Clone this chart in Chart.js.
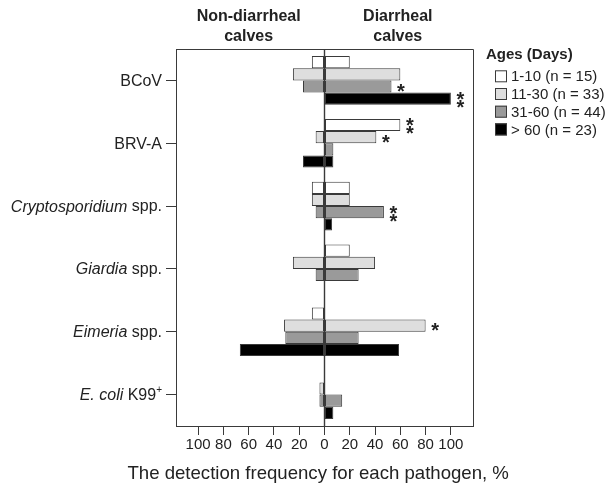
<!DOCTYPE html>
<html><head><meta charset="utf-8">
<script src="https://cdn.jsdelivr.net/npm/chart.js@4/dist/chart.umd.min.js"></script>
<style>html,body{margin:0;padding:0;background:#fff}</style>
</head><body>
<canvas id="c" width="614" height="488"></canvas>
<script>
// ---- data ----
const pathogens = ['BCoV', 'BRV-A', 'Cryptosporidium spp.', 'Giardia spp.', 'Eimeria spp.', 'E. coli K99+'];
const italicParts = ['', '', 'Cryptosporidium', 'Giardia', 'Eimeria', 'E. coli'];
const ageGroups = ['1-10 (n = 15)', '11-30 (n = 33)', '31-60 (n = 44)', '> 60 (n = 23)'];
// non-diarrheal calves (%), drawn to the left
const nonDiarrheal_1_10  = [10, 0, 10, 0, 10, 0];
const nonDiarrheal_11_30 = [25, 7, 10, 25, 32, 4];
const nonDiarrheal_31_60 = [17, 0, 7, 7, 31, 4];
const nonDiarrheal_gt60  = [0, 17, 0, 0, 67, 0];
// diarrheal calves (%), drawn to the right
const diarrheal_1_10  = [20, 60, 20, 20, 0, 0];
const diarrheal_11_30 = [60, 41, 20, 40, 80, 0];
const diarrheal_31_60 = [53, 7, 47, 27, 27, 14];
const diarrheal_gt60  = [100, 7, 6, 0, 59, 7];
// number of significance asterisks next to diarrheal bars
const signif_1_10  = [0, 2, 0, 0, 0, 0];
const signif_11_30 = [0, 1, 0, 0, 1, 0];
const signif_31_60 = [1, 0, 2, 0, 0, 0];
const signif_gt60  = [2, 0, 0, 0, 0, 0];
const xTickValues = [-100, -80, -60, -40, -20, 0, 20, 40, 60, 80, 100];
const headings = [['Non-diarrheal', 'calves'], ['Diarrheal', 'calves']];
const legendTitle = 'Ages (Days)';
const xTitle = 'The detection frequency for each pathogen, %';

const nonD = [nonDiarrheal_1_10, nonDiarrheal_11_30, nonDiarrheal_31_60, nonDiarrheal_gt60];
const diar = [diarrheal_1_10, diarrheal_11_30, diarrheal_31_60, diarrheal_gt60];
const signif = [signif_1_10, signif_11_30, signif_31_60, signif_gt60];
const colors = ['#ffffff', '#dedede', '#9a9a9a', '#000000'];
const EDGE = '#3a3a3a';
const FONT = '"Liberation Sans", Arial, sans-serif';

const datasets = [];
ageGroups.forEach((g, a) => {
  datasets.push({label: g + ' non-diarrheal', data: nonD[a].map(v => v ? -v : null), stack: 's' + a,
    backgroundColor: colors[a], borderColor: EDGE, borderWidth: 1, borderSkipped: false,
    categoryPercentage: 0.775, barPercentage: 1.0});
  datasets.push({label: g + ' diarrheal', data: diar[a].map(v => v ? v : null), stack: 's' + a,
    backgroundColor: colors[a], borderColor: EDGE, borderWidth: 1, borderSkipped: false,
    categoryPercentage: 0.775, barPercentage: 1.0, _sig: signif[a]});
});

const decor = {
  id: 'decor',
  afterDatasetsDraw(chart) {
    const ctx = chart.ctx, ca = chart.chartArea, xs = chart.scales.x, ys = chart.scales.y;
    ctx.save();
    // frame top/right
    ctx.strokeStyle = EDGE; ctx.lineWidth = 1;
    ctx.beginPath();
    ctx.moveTo(ca.left, ca.top + 0.5); ctx.lineTo(ca.right + 0.5, ca.top + 0.5); ctx.lineTo(ca.right + 0.5, ca.bottom);
    ctx.stroke();
    // zero line
    const x0 = xs.getPixelForValue(0);
    ctx.lineWidth = 1.4;
    ctx.beginPath(); ctx.moveTo(x0, ca.top); ctx.lineTo(x0, ca.bottom); ctx.stroke();
    // asterisks
    ctx.fillStyle = '#222';
    ctx.font = 'bold 20px ' + FONT;
    ctx.textAlign = 'center'; ctx.textBaseline = 'alphabetic';
    chart.data.datasets.forEach((ds, di) => {
      if (!ds._sig) return;
      const meta = chart.getDatasetMeta(di);
      ds._sig.forEach((n, i) => {
        if (!n) return;
        const bar = meta.data[i];
        const cx = bar.x + 9.5;
        const ys2 = n === 2 ? [bar.y - 4, bar.y + 4] : [bar.y];
        ys2.forEach(cy => ctx.fillText('*', cx, cy + 11.5));
      });
    });
    // y category labels (with italics)
    ctx.fillStyle = '#222';
    ctx.textAlign = 'left'; ctx.textBaseline = 'middle';
    const rightX = ca.left - 14;
    pathogens.forEach((lab, i) => {
      const y = ys.getPixelForValue(i) + 1;
      const it = italicParts[i];
      let rest = lab.slice(it.length);
      let sup = '';
      if (rest.endsWith('+')) { sup = '+'; rest = rest.slice(0, -1); }
      ctx.font = 'italic 16px ' + FONT; const wi = it ? ctx.measureText(it).width : 0;
      ctx.font = '16px ' + FONT; const wr = ctx.measureText(rest).width;
      ctx.font = '10px ' + FONT; const ws = sup ? ctx.measureText(sup).width : 0;
      let x = rightX - wi - wr - ws;
      if (it) { ctx.font = 'italic 16px ' + FONT; ctx.fillText(it, x, y); x += wi; }
      ctx.font = '16px ' + FONT; ctx.fillText(rest, x, y); x += wr;
      if (sup) { ctx.font = '10px ' + FONT; ctx.fillText(sup, x, y - 5); }
    });
    // headings
    ctx.font = 'bold 16px ' + FONT; ctx.textAlign = 'center'; ctx.textBaseline = 'alphabetic';
    const hx = [xs.getPixelForValue(-60), xs.getPixelForValue(58)];
    headings.forEach((h, k) => { ctx.fillText(h[0], hx[k], 21); ctx.fillText(h[1], hx[k], 41); });
    // x title
    ctx.font = '18.6px ' + FONT;
    ctx.fillText(xTitle, xs.getPixelForValue(-5), 479);
    // legend
    ctx.textAlign = 'left';
    ctx.font = 'bold 15px ' + FONT;
    ctx.fillText(legendTitle, ca.right + 13, 59);
    ctx.font = '15px ' + FONT; ctx.textBaseline = 'middle';
    ageGroups.forEach((g, a) => {
      const cy = 76.3 + a * 17.7;
      ctx.fillStyle = colors[a]; ctx.fillRect(ca.right + 22, cy - 6, 12, 12);
      ctx.strokeStyle = EDGE; ctx.lineWidth = 1; ctx.strokeRect(ca.right + 22.5, cy - 5.5, 11, 11);
      ctx.fillStyle = '#222'; ctx.fillText(g, ca.right + 38, cy + 1);
    });
    ctx.restore();
  }
};

new Chart(document.getElementById('c'), {
  type: 'bar',
  data: {labels: pathogens, datasets},
  options: {
    indexAxis: 'y', responsive: false, animation: false,
    layout: {padding: {left: 166, right: 141, top: 49, bottom: 32}},
    plugins: {legend: {display: false}, tooltip: {enabled: false}},
    scales: {
      x: {
        type: 'linear', stacked: true, min: -117.5, max: 117.5,
        afterBuildTicks: s => { s.ticks = xTickValues.map(v => ({value: v})); },
        afterFit: s => { s.height = 30; },
        ticks: {callback: v => String(Math.abs(v)), font: {size: 15, family: FONT}, color: '#222', padding: 1, maxRotation: 0, autoSkip: false},
        grid: {drawOnChartArea: false, drawTicks: true, tickLength: 9, color: EDGE},
        border: {display: true, color: EDGE, width: 1}
      },
      y: {
        type: 'category', stacked: true,
        afterFit: s => { s.width = 10; },
        ticks: {display: false},
        grid: {drawOnChartArea: false, drawTicks: true, tickLength: 10, offset: false, color: EDGE},
        border: {display: true, color: EDGE, width: 1}
      }
    }
  },
  plugins: [decor]
});
</script>
</body></html>
